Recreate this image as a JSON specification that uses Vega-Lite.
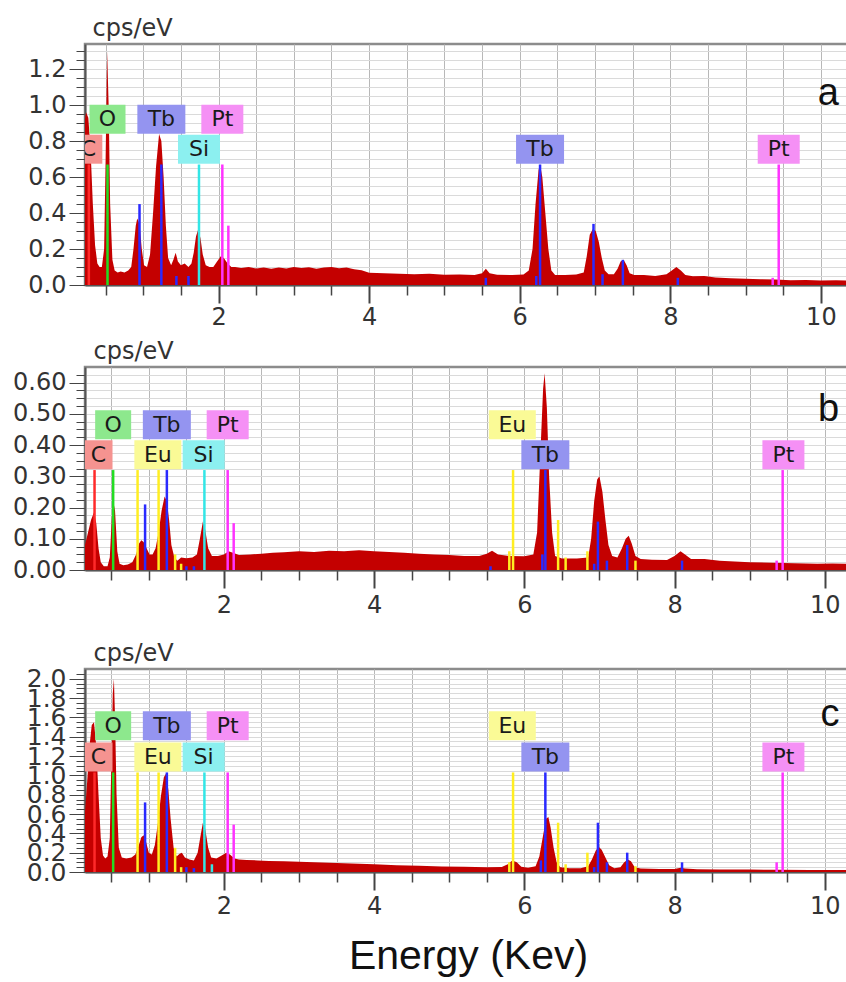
{
  "$schema": "https://vega.github.io/schema/vega-lite/v6.json",
  "background": "white",
  "padding": {"left": 0, "top": 14, "right": 0, "bottom": 0},
  "spacing": 4,
  "columns": 1,
  "align": "none",
  "config": {
    "font": "DejaVu Sans",
    "view": {"stroke": "#8c8c8c", "strokeWidth": 2.5},
    "axis": {"labelFont": "DejaVu Sans", "labelColor": "#333333", "tickColor": "#444444", "domainColor": "#555555", "domainWidth": 2, "labelOverlap": false, "labelBound": false, "labelFlush": false},
    "axisX": {"grid": true, "gridColor": "#b8b8b8", "gridWidth": 1, "labelFontSize": 24, "labelPadding": 2},
    "axisY": {"grid": true, "gridColor": "#dadada", "gridWidth": 1, "labelPadding": 3}
  },
  "datasets": {
    "spec": [
      {"p":"a","e":0.15,"v":0.62},{"p":"a","e":0.18,"v":0.75},{"p":"a","e":0.21,"v":0.88},{"p":"a","e":0.24,"v":0.96},{"p":"a","e":0.27,"v":0.93},{"p":"a","e":0.3,"v":0.75},{"p":"a","e":0.33,"v":0.45},{"p":"a","e":0.36,"v":0.22},{"p":"a","e":0.39,"v":0.12},{"p":"a","e":0.42,"v":0.1},{"p":"a","e":0.45,"v":0.1},{"p":"a","e":0.48,"v":0.2},{"p":"a","e":0.5,"v":0.7},{"p":"a","e":0.52,"v":1.3},{"p":"a","e":0.54,"v":1.0},{"p":"a","e":0.56,"v":0.45},{"p":"a","e":0.59,"v":0.14},{"p":"a","e":0.62,"v":0.08},{"p":"a","e":0.66,"v":0.07},{"p":"a","e":0.7,"v":0.075},{"p":"a","e":0.75,"v":0.07},{"p":"a","e":0.8,"v":0.08},{"p":"a","e":0.84,"v":0.1},{"p":"a","e":0.87,"v":0.2},{"p":"a","e":0.9,"v":0.33},{"p":"a","e":0.92,"v":0.37},{"p":"a","e":0.95,"v":0.34},{"p":"a","e":0.98,"v":0.2},{"p":"a","e":1.01,"v":0.11},{"p":"a","e":1.05,"v":0.1},{"p":"a","e":1.09,"v":0.17},{"p":"a","e":1.13,"v":0.4},{"p":"a","e":1.17,"v":0.66},{"p":"a","e":1.21,"v":0.84},{"p":"a","e":1.24,"v":0.8},{"p":"a","e":1.27,"v":0.6},{"p":"a","e":1.3,"v":0.33},{"p":"a","e":1.33,"v":0.15},{"p":"a","e":1.37,"v":0.11},{"p":"a","e":1.4,"v":0.14},{"p":"a","e":1.43,"v":0.18},{"p":"a","e":1.46,"v":0.13},{"p":"a","e":1.5,"v":0.11},{"p":"a","e":1.55,"v":0.12},{"p":"a","e":1.6,"v":0.1},{"p":"a","e":1.64,"v":0.12},{"p":"a","e":1.67,"v":0.18},{"p":"a","e":1.7,"v":0.27},{"p":"a","e":1.73,"v":0.31},{"p":"a","e":1.76,"v":0.26},{"p":"a","e":1.79,"v":0.17},{"p":"a","e":1.83,"v":0.11},{"p":"a","e":1.88,"v":0.1},{"p":"a","e":1.93,"v":0.1},{"p":"a","e":1.98,"v":0.13},{"p":"a","e":2.03,"v":0.16},{"p":"a","e":2.07,"v":0.15},{"p":"a","e":2.12,"v":0.12},{"p":"a","e":2.17,"v":0.1},{"p":"a","e":2.22,"v":0.1},{"p":"a","e":2.3,"v":0.095},{"p":"a","e":2.4,"v":0.1},{"p":"a","e":2.5,"v":0.092},{"p":"a","e":2.6,"v":0.098},{"p":"a","e":2.7,"v":0.09},{"p":"a","e":2.8,"v":0.097},{"p":"a","e":2.9,"v":0.092},{"p":"a","e":3.0,"v":0.1},{"p":"a","e":3.1,"v":0.094},{"p":"a","e":3.2,"v":0.099},{"p":"a","e":3.3,"v":0.091},{"p":"a","e":3.4,"v":0.097},{"p":"a","e":3.5,"v":0.1},{"p":"a","e":3.6,"v":0.093},{"p":"a","e":3.7,"v":0.098},{"p":"a","e":3.8,"v":0.088},{"p":"a","e":3.9,"v":0.082},{"p":"a","e":4.0,"v":0.068},{"p":"a","e":4.2,"v":0.065},{"p":"a","e":4.4,"v":0.062},{"p":"a","e":4.6,"v":0.06},{"p":"a","e":4.8,"v":0.062},{"p":"a","e":5.0,"v":0.057},{"p":"a","e":5.2,"v":0.058},{"p":"a","e":5.4,"v":0.055},{"p":"a","e":5.5,"v":0.065},{"p":"a","e":5.55,"v":0.09},{"p":"a","e":5.6,"v":0.065},{"p":"a","e":5.7,"v":0.057},{"p":"a","e":5.9,"v":0.055},{"p":"a","e":6.05,"v":0.058},{"p":"a","e":6.12,"v":0.08},{"p":"a","e":6.17,"v":0.2},{"p":"a","e":6.21,"v":0.45},{"p":"a","e":6.25,"v":0.64},{"p":"a","e":6.27,"v":0.67},{"p":"a","e":6.3,"v":0.6},{"p":"a","e":6.34,"v":0.4},{"p":"a","e":6.38,"v":0.2},{"p":"a","e":6.42,"v":0.08},{"p":"a","e":6.47,"v":0.055},{"p":"a","e":6.6,"v":0.055},{"p":"a","e":6.75,"v":0.058},{"p":"a","e":6.85,"v":0.07},{"p":"a","e":6.89,"v":0.16},{"p":"a","e":6.93,"v":0.28},{"p":"a","e":6.97,"v":0.31},{"p":"a","e":7.01,"v":0.3},{"p":"a","e":7.05,"v":0.24},{"p":"a","e":7.09,"v":0.15},{"p":"a","e":7.13,"v":0.08},{"p":"a","e":7.18,"v":0.06},{"p":"a","e":7.25,"v":0.06},{"p":"a","e":7.3,"v":0.09},{"p":"a","e":7.34,"v":0.13},{"p":"a","e":7.38,"v":0.14},{"p":"a","e":7.42,"v":0.11},{"p":"a","e":7.46,"v":0.065},{"p":"a","e":7.52,"v":0.055},{"p":"a","e":7.65,"v":0.055},{"p":"a","e":7.8,"v":0.05},{"p":"a","e":7.95,"v":0.06},{"p":"a","e":8.02,"v":0.08},{"p":"a","e":8.08,"v":0.1},{"p":"a","e":8.14,"v":0.08},{"p":"a","e":8.2,"v":0.055},{"p":"a","e":8.3,"v":0.048},{"p":"a","e":8.45,"v":0.05},{"p":"a","e":8.6,"v":0.042},{"p":"a","e":8.8,"v":0.037},{"p":"a","e":9.0,"v":0.035},{"p":"a","e":9.2,"v":0.032},{"p":"a","e":9.4,"v":0.03},{"p":"a","e":9.6,"v":0.027},{"p":"a","e":9.8,"v":0.028},{"p":"a","e":10.0,"v":0.025},{"p":"a","e":10.2,"v":0.026},{"p":"a","e":10.4,"v":0.025},
      {"p":"b","e":0.15,"v":0.08},{"p":"b","e":0.19,"v":0.12},{"p":"b","e":0.23,"v":0.16},{"p":"b","e":0.27,"v":0.185},{"p":"b","e":0.3,"v":0.15},{"p":"b","e":0.33,"v":0.07},{"p":"b","e":0.36,"v":0.025},{"p":"b","e":0.4,"v":0.012},{"p":"b","e":0.45,"v":0.012},{"p":"b","e":0.48,"v":0.04},{"p":"b","e":0.51,"v":0.18},{"p":"b","e":0.53,"v":0.215},{"p":"b","e":0.55,"v":0.19},{"p":"b","e":0.58,"v":0.06},{"p":"b","e":0.61,"v":0.02},{"p":"b","e":0.66,"v":0.015},{"p":"b","e":0.72,"v":0.018},{"p":"b","e":0.78,"v":0.025},{"p":"b","e":0.83,"v":0.05},{"p":"b","e":0.87,"v":0.085},{"p":"b","e":0.9,"v":0.095},{"p":"b","e":0.93,"v":0.09},{"p":"b","e":0.97,"v":0.07},{"p":"b","e":1.01,"v":0.05},{"p":"b","e":1.05,"v":0.05},{"p":"b","e":1.09,"v":0.07},{"p":"b","e":1.13,"v":0.12},{"p":"b","e":1.17,"v":0.19},{"p":"b","e":1.21,"v":0.235},{"p":"b","e":1.24,"v":0.22},{"p":"b","e":1.27,"v":0.16},{"p":"b","e":1.3,"v":0.08},{"p":"b","e":1.34,"v":0.04},{"p":"b","e":1.38,"v":0.03},{"p":"b","e":1.43,"v":0.04},{"p":"b","e":1.5,"v":0.038},{"p":"b","e":1.58,"v":0.04},{"p":"b","e":1.64,"v":0.05},{"p":"b","e":1.68,"v":0.1},{"p":"b","e":1.72,"v":0.155},{"p":"b","e":1.75,"v":0.13},{"p":"b","e":1.79,"v":0.07},{"p":"b","e":1.84,"v":0.045},{"p":"b","e":1.92,"v":0.045},{"p":"b","e":2.0,"v":0.05},{"p":"b","e":2.06,"v":0.06},{"p":"b","e":2.12,"v":0.055},{"p":"b","e":2.2,"v":0.048},{"p":"b","e":2.35,"v":0.05},{"p":"b","e":2.5,"v":0.052},{"p":"b","e":2.65,"v":0.055},{"p":"b","e":2.8,"v":0.057},{"p":"b","e":3.0,"v":0.06},{"p":"b","e":3.2,"v":0.058},{"p":"b","e":3.4,"v":0.062},{"p":"b","e":3.6,"v":0.06},{"p":"b","e":3.8,"v":0.063},{"p":"b","e":4.0,"v":0.06},{"p":"b","e":4.2,"v":0.058},{"p":"b","e":4.4,"v":0.055},{"p":"b","e":4.6,"v":0.052},{"p":"b","e":4.8,"v":0.05},{"p":"b","e":5.0,"v":0.048},{"p":"b","e":5.2,"v":0.045},{"p":"b","e":5.4,"v":0.045},{"p":"b","e":5.5,"v":0.052},{"p":"b","e":5.57,"v":0.062},{"p":"b","e":5.65,"v":0.05},{"p":"b","e":5.8,"v":0.045},{"p":"b","e":6.0,"v":0.044},{"p":"b","e":6.12,"v":0.05},{"p":"b","e":6.17,"v":0.12},{"p":"b","e":6.21,"v":0.35},{"p":"b","e":6.25,"v":0.58},{"p":"b","e":6.27,"v":0.63},{"p":"b","e":6.3,"v":0.52},{"p":"b","e":6.33,"v":0.3},{"p":"b","e":6.37,"v":0.12},{"p":"b","e":6.41,"v":0.045},{"p":"b","e":6.5,"v":0.037},{"p":"b","e":6.7,"v":0.037},{"p":"b","e":6.85,"v":0.04},{"p":"b","e":6.89,"v":0.1},{"p":"b","e":6.93,"v":0.22},{"p":"b","e":6.97,"v":0.29},{"p":"b","e":7.0,"v":0.3},{"p":"b","e":7.04,"v":0.25},{"p":"b","e":7.08,"v":0.16},{"p":"b","e":7.12,"v":0.08},{"p":"b","e":7.17,"v":0.045},{"p":"b","e":7.24,"v":0.04},{"p":"b","e":7.3,"v":0.07},{"p":"b","e":7.35,"v":0.1},{"p":"b","e":7.39,"v":0.11},{"p":"b","e":7.43,"v":0.085},{"p":"b","e":7.48,"v":0.045},{"p":"b","e":7.55,"v":0.035},{"p":"b","e":7.7,"v":0.033},{"p":"b","e":7.9,"v":0.032},{"p":"b","e":8.0,"v":0.045},{"p":"b","e":8.08,"v":0.06},{"p":"b","e":8.14,"v":0.05},{"p":"b","e":8.22,"v":0.035},{"p":"b","e":8.4,"v":0.035},{"p":"b","e":8.6,"v":0.03},{"p":"b","e":8.8,"v":0.027},{"p":"b","e":9.0,"v":0.025},{"p":"b","e":9.3,"v":0.023},{"p":"b","e":9.6,"v":0.022},{"p":"b","e":9.9,"v":0.02},{"p":"b","e":10.1,"v":0.021},{"p":"b","e":10.35,"v":0.02},
      {"p":"c","e":0.15,"v":0.62},{"p":"c","e":0.18,"v":0.95},{"p":"c","e":0.21,"v":1.3},{"p":"c","e":0.24,"v":1.52},{"p":"c","e":0.27,"v":1.55},{"p":"c","e":0.3,"v":1.3},{"p":"c","e":0.33,"v":0.8},{"p":"c","e":0.36,"v":0.35},{"p":"c","e":0.39,"v":0.17},{"p":"c","e":0.42,"v":0.14},{"p":"c","e":0.45,"v":0.16},{"p":"c","e":0.48,"v":0.35},{"p":"c","e":0.5,"v":1.1},{"p":"c","e":0.52,"v":1.85},{"p":"c","e":0.535,"v":2.0},{"p":"c","e":0.55,"v":1.6},{"p":"c","e":0.57,"v":0.8},{"p":"c","e":0.6,"v":0.25},{"p":"c","e":0.64,"v":0.15},{"p":"c","e":0.7,"v":0.14},{"p":"c","e":0.77,"v":0.15},{"p":"c","e":0.82,"v":0.18},{"p":"c","e":0.86,"v":0.26},{"p":"c","e":0.9,"v":0.36},{"p":"c","e":0.93,"v":0.38},{"p":"c","e":0.96,"v":0.32},{"p":"c","e":1.0,"v":0.2},{"p":"c","e":1.04,"v":0.18},{"p":"c","e":1.08,"v":0.28},{"p":"c","e":1.12,"v":0.5},{"p":"c","e":1.16,"v":0.78},{"p":"c","e":1.2,"v":0.98},{"p":"c","e":1.23,"v":1.02},{"p":"c","e":1.26,"v":0.85},{"p":"c","e":1.29,"v":0.55},{"p":"c","e":1.33,"v":0.25},{"p":"c","e":1.37,"v":0.16},{"p":"c","e":1.41,"v":0.19},{"p":"c","e":1.44,"v":0.2},{"p":"c","e":1.48,"v":0.15},{"p":"c","e":1.54,"v":0.13},{"p":"c","e":1.6,"v":0.12},{"p":"c","e":1.65,"v":0.2},{"p":"c","e":1.69,"v":0.38},{"p":"c","e":1.72,"v":0.51},{"p":"c","e":1.75,"v":0.45},{"p":"c","e":1.79,"v":0.25},{"p":"c","e":1.83,"v":0.15},{"p":"c","e":1.9,"v":0.14},{"p":"c","e":1.97,"v":0.17},{"p":"c","e":2.03,"v":0.2},{"p":"c","e":2.08,"v":0.18},{"p":"c","e":2.14,"v":0.14},{"p":"c","e":2.2,"v":0.13},{"p":"c","e":2.3,"v":0.125},{"p":"c","e":2.45,"v":0.12},{"p":"c","e":2.6,"v":0.115},{"p":"c","e":2.8,"v":0.11},{"p":"c","e":3.0,"v":0.105},{"p":"c","e":3.2,"v":0.1},{"p":"c","e":3.4,"v":0.095},{"p":"c","e":3.6,"v":0.09},{"p":"c","e":3.8,"v":0.085},{"p":"c","e":4.0,"v":0.08},{"p":"c","e":4.3,"v":0.07},{"p":"c","e":4.6,"v":0.065},{"p":"c","e":4.9,"v":0.058},{"p":"c","e":5.2,"v":0.055},{"p":"c","e":5.5,"v":0.05},{"p":"c","e":5.7,"v":0.052},{"p":"c","e":5.78,"v":0.08},{"p":"c","e":5.84,"v":0.12},{"p":"c","e":5.9,"v":0.1},{"p":"c","e":5.96,"v":0.055},{"p":"c","e":6.05,"v":0.045},{"p":"c","e":6.15,"v":0.06},{"p":"c","e":6.2,"v":0.16},{"p":"c","e":6.25,"v":0.38},{"p":"c","e":6.29,"v":0.55},{"p":"c","e":6.32,"v":0.57},{"p":"c","e":6.35,"v":0.46},{"p":"c","e":6.39,"v":0.25},{"p":"c","e":6.43,"v":0.1},{"p":"c","e":6.48,"v":0.05},{"p":"c","e":6.6,"v":0.04},{"p":"c","e":6.75,"v":0.04},{"p":"c","e":6.85,"v":0.06},{"p":"c","e":6.9,"v":0.13},{"p":"c","e":6.95,"v":0.22},{"p":"c","e":6.99,"v":0.26},{"p":"c","e":7.03,"v":0.23},{"p":"c","e":7.08,"v":0.15},{"p":"c","e":7.13,"v":0.07},{"p":"c","e":7.2,"v":0.04},{"p":"c","e":7.28,"v":0.05},{"p":"c","e":7.33,"v":0.1},{"p":"c","e":7.38,"v":0.13},{"p":"c","e":7.42,"v":0.11},{"p":"c","e":7.47,"v":0.05},{"p":"c","e":7.55,"v":0.035},{"p":"c","e":7.8,"v":0.03},{"p":"c","e":8.0,"v":0.03},{"p":"c","e":8.08,"v":0.045},{"p":"c","e":8.14,"v":0.035},{"p":"c","e":8.3,"v":0.028},{"p":"c","e":8.6,"v":0.025},{"p":"c","e":9.0,"v":0.025},{"p":"c","e":9.4,"v":0.022},{"p":"c","e":9.8,"v":0.02},{"p":"c","e":10.35,"v":0.02}
    ],
    "lines": [
      {"p":"a","el":"C","e":0.277,"v":0.67},{"p":"a","el":"O","e":0.525,"v":0.67},{"p":"a","el":"Tb","e":0.95,"v":0.45},{"p":"a","el":"Tb","e":1.24,"v":0.67},{"p":"a","el":"Tb","e":1.44,"v":0.05},{"p":"a","el":"Tb","e":1.6,"v":0.05},{"p":"a","el":"Si","e":1.74,"v":0.67},{"p":"a","el":"Pt","e":2.05,"v":0.67},{"p":"a","el":"Pt","e":2.13,"v":0.33},{"p":"a","el":"Tb","e":5.55,"v":0.04},{"p":"a","el":"Tb","e":6.22,"v":0.05},{"p":"a","el":"Tb","e":6.27,"v":0.67},{"p":"a","el":"Tb","e":6.98,"v":0.34},{"p":"a","el":"Tb","e":7.1,"v":0.06},{"p":"a","el":"Tb","e":7.37,"v":0.14},{"p":"a","el":"Tb","e":8.1,"v":0.04},{"p":"a","el":"Pt","e":9.36,"v":0.04},{"p":"a","el":"Pt","e":9.44,"v":0.67},
      {"p":"b","el":"C","e":0.277,"v":0.32},{"p":"b","el":"O","e":0.525,"v":0.32},{"p":"b","el":"Eu","e":0.85,"v":0.32},{"p":"b","el":"Tb","e":0.95,"v":0.21},{"p":"b","el":"Eu","e":1.13,"v":0.32},{"p":"b","el":"Tb","e":1.24,"v":0.32},{"p":"b","el":"Eu","e":1.35,"v":0.05},{"p":"b","el":"Eu","e":1.43,"v":0.02},{"p":"b","el":"Tb","e":1.5,"v":0.012},{"p":"b","el":"Tb","e":1.6,"v":0.012},{"p":"b","el":"Si","e":1.74,"v":0.32},{"p":"b","el":"Pt","e":2.05,"v":0.32},{"p":"b","el":"Pt","e":2.13,"v":0.15},{"p":"b","el":"Tb","e":5.55,"v":0.012},{"p":"b","el":"Eu","e":5.8,"v":0.06},{"p":"b","el":"Eu","e":5.85,"v":0.32},{"p":"b","el":"Tb","e":6.24,"v":0.05},{"p":"b","el":"Tb","e":6.28,"v":0.32},{"p":"b","el":"Eu","e":6.45,"v":0.16},{"p":"b","el":"Eu","e":6.55,"v":0.04},{"p":"b","el":"Eu","e":6.84,"v":0.06},{"p":"b","el":"Tb","e":6.93,"v":0.02},{"p":"b","el":"Tb","e":6.98,"v":0.155},{"p":"b","el":"Tb","e":7.1,"v":0.03},{"p":"b","el":"Tb","e":7.37,"v":0.08},{"p":"b","el":"Eu","e":7.48,"v":0.03},{"p":"b","el":"Tb","e":8.1,"v":0.03},{"p":"b","el":"Pt","e":9.36,"v":0.03},{"p":"b","el":"Pt","e":9.44,"v":0.32},
      {"p":"c","el":"C","e":0.277,"v":1.03},{"p":"c","el":"O","e":0.525,"v":1.03},{"p":"c","el":"Eu","e":0.85,"v":1.03},{"p":"c","el":"Tb","e":0.95,"v":0.72},{"p":"c","el":"Eu","e":1.13,"v":1.03},{"p":"c","el":"Tb","e":1.24,"v":1.03},{"p":"c","el":"Eu","e":1.35,"v":0.25},{"p":"c","el":"Eu","e":1.43,"v":0.05},{"p":"c","el":"Tb","e":1.5,"v":0.05},{"p":"c","el":"Tb","e":1.6,"v":0.04},{"p":"c","el":"Si","e":1.74,"v":1.03},{"p":"c","el":"Si","e":1.84,"v":0.08},{"p":"c","el":"Pt","e":2.05,"v":1.03},{"p":"c","el":"Pt","e":2.13,"v":0.49},{"p":"c","el":"Eu","e":5.8,"v":0.1},{"p":"c","el":"Eu","e":5.85,"v":1.03},{"p":"c","el":"Tb","e":6.22,"v":0.12},{"p":"c","el":"Tb","e":6.28,"v":1.03},{"p":"c","el":"Eu","e":6.45,"v":0.51},{"p":"c","el":"Eu","e":6.55,"v":0.08},{"p":"c","el":"Eu","e":6.84,"v":0.2},{"p":"c","el":"Tb","e":6.93,"v":0.05},{"p":"c","el":"Tb","e":6.98,"v":0.51},{"p":"c","el":"Tb","e":7.1,"v":0.1},{"p":"c","el":"Tb","e":7.37,"v":0.2},{"p":"c","el":"Eu","e":7.48,"v":0.06},{"p":"c","el":"Tb","e":8.1,"v":0.1},{"p":"c","el":"Pt","e":9.36,"v":0.1},{"p":"c","el":"Pt","e":9.44,"v":1.03}
    ],
    "labels": [
      {"p":"a","el":"C","e":0.27,"v":0.755},{"p":"a","el":"O","e":0.525,"v":0.922},{"p":"a","el":"Tb","e":1.24,"v":0.922},{"p":"a","el":"Si","e":1.74,"v":0.755},{"p":"a","el":"Pt","e":2.05,"v":0.922},{"p":"a","el":"Tb","e":6.27,"v":0.755},{"p":"a","el":"Pt","e":9.44,"v":0.755},
      {"p":"b","el":"C","e":0.33,"v":0.369},{"p":"b","el":"O","e":0.525,"v":0.465},{"p":"b","el":"Tb","e":1.24,"v":0.465},{"p":"b","el":"Eu","e":1.12,"v":0.369},{"p":"b","el":"Si","e":1.73,"v":0.369},{"p":"b","el":"Pt","e":2.05,"v":0.465},{"p":"b","el":"Eu","e":5.84,"v":0.465},{"p":"b","el":"Tb","e":6.28,"v":0.369},{"p":"b","el":"Pt","e":9.45,"v":0.369},
      {"p":"c","el":"C","e":0.33,"v":1.19},{"p":"c","el":"O","e":0.525,"v":1.513},{"p":"c","el":"Tb","e":1.24,"v":1.513},{"p":"c","el":"Eu","e":1.12,"v":1.19},{"p":"c","el":"Si","e":1.73,"v":1.19},{"p":"c","el":"Pt","e":2.05,"v":1.513},{"p":"c","el":"Eu","e":5.84,"v":1.513},{"p":"c","el":"Tb","e":6.28,"v":1.19},{"p":"c","el":"Pt","e":9.45,"v":1.19}
    ],
    "letters": [
      {"p":"a","t":"a","e":10.1,"v":1.0},{"p":"b","t":"b","e":10.05,"v":0.478},{"p":"c","t":"c","e":10.07,"v":1.51}
    ]
  },
  "concat": [
    {
      "width": 766, "height": 241,
      "encoding": {
        "x": {"field": "e", "type": "quantitative", "scale": {"domain": [0.226, 10.4], "nice": false, "zero": false},
          "axis": {"values": [0.5,1,1.5,2,2.5,3,3.5,4,4.5,5,5.5,6,6.5,7,7.5,8,8.5,9,9.5,10], "labelExpr": "datum.value % 2 == 0 ? format(datum.value, 'd') : ''", "tickSize": {"condition": {"test": "datum.value % 2 == 0", "value": 18}, "value": 10}, "tickWidth": {"condition": {"test": "datum.value % 2 == 0", "value": 2}, "value": 1.5}, "title": null, "minExtent": 46, "maxExtent": 46}},
        "y": {"field": "v", "type": "quantitative", "scale": {"domain": [0, 1.34], "nice": false, "zero": false},
          "axis": {"values": [0,0.05,0.1,0.15,0.2,0.25,0.3,0.35,0.4,0.45,0.5,0.55,0.6,0.65,0.7,0.75,0.8,0.85,0.9,0.95,1,1.05,1.1,1.15,1.2,1.25,1.3], "labelExpr": "abs(datum.value*5-round(datum.value*5))<0.01 ? format(datum.value,'.1f') : ''", "tickSize": {"condition": {"test": "abs(datum.value*5-round(datum.value*5))<0.01", "value": 16}, "value": 9}, "labelFontSize": 24, "title": "cps/eV", "titleAngle": 0, "titleAlign": "left", "titleBaseline": "alphabetic", "titleX": 7, "titleY": -9, "titleFontSize": 24, "titleFontWeight": "normal", "titleColor": "#333333", "titleFont": "DejaVu Sans", "minExtent": 78, "maxExtent": 78}}
      },
      "layer": [
        {"data": {"name": "spec"}, "transform": [{"filter": "datum.p == 'a'"}], "mark": {"type": "area", "color": "#c40000", "clip": true}},
        {"data": {"name": "lines"}, "transform": [{"filter": "datum.p == 'a'"}], "mark": {"type": "rule", "strokeWidth": 2.5, "clip": true},
          "encoding": {"y2": {"datum": 0}, "stroke": {"field": "el", "type": "nominal", "legend": null, "scale": {"domain": ["C","O","Tb","Eu","Si","Pt"], "range": ["#ff2a2a","#22dd22","#2a2aff","#ffee22","#33e6e6","#ff33ff"]}}}},
        {"data": {"name": "labels"}, "transform": [{"filter": "datum.p == 'a'"}], "mark": {"type": "point", "filled": true, "opacity": 1, "size": 2500, "strokeWidth": 0, "clip": true},
          "encoding": {"fill": {"field": "el", "type": "nominal", "legend": null, "scale": {"domain": ["C","O","Tb","Eu","Si","Pt"], "range": ["#f59390","#8de88d","#9494f0","#fafa96","#8cf0f0","#f590f5"]}},
            "shape": {"field": "el", "type": "nominal", "legend": null, "scale": {"domain": ["C","O","Tb","Eu","Si","Pt"], "range": ["M-0.56,-0.58H0.56V0.58H-0.56Z","M-0.72,-0.58H0.72V0.58H-0.72Z","M-0.96,-0.58H0.96V0.58H-0.96Z","M-0.94,-0.58H0.94V0.58H-0.94Z","M-0.84,-0.58H0.84V0.58H-0.84Z","M-0.84,-0.58H0.84V0.58H-0.84Z"]}}}},
        {"data": {"name": "labels"}, "transform": [{"filter": "datum.p == 'a'"}], "mark": {"type": "text", "fontSize": 22, "color": "#1a1a1a", "font": "DejaVu Sans", "clip": true}, "encoding": {"text": {"field": "el"}}},
        {"data": {"name": "letters"}, "transform": [{"filter": "datum.p == 'a'"}], "mark": {"type": "text", "fontSize": 38, "font": "Liberation Sans", "baseline": "alphabetic", "align": "center", "color": "#111111"}, "encoding": {"text": {"field": "t"}}}
      ]
    },
    {
      "width": 766, "height": 203,
      "encoding": {
        "x": {"field": "e", "type": "quantitative", "scale": {"domain": [0.15, 10.35], "nice": false, "zero": false},
          "axis": {"values": [0.5,1,1.5,2,2.5,3,3.5,4,4.5,5,5.5,6,6.5,7,7.5,8,8.5,9,9.5,10], "labelExpr": "datum.value % 2 == 0 ? format(datum.value, 'd') : ''", "tickSize": {"condition": {"test": "datum.value % 2 == 0", "value": 18}, "value": 10}, "tickWidth": {"condition": {"test": "datum.value % 2 == 0", "value": 2}, "value": 1.5}, "title": null, "labelPadding": 5, "minExtent": 63, "maxExtent": 63}},
        "y": {"field": "v", "type": "quantitative", "scale": {"domain": [0, 0.65], "nice": false, "zero": false},
          "axis": {"values": [0,0.025,0.05,0.075,0.1,0.125,0.15,0.175,0.2,0.225,0.25,0.275,0.3,0.325,0.35,0.375,0.4,0.425,0.45,0.475,0.5,0.525,0.55,0.575,0.6,0.625], "labelExpr": "abs(datum.value*10-round(datum.value*10))<0.01 ? format(datum.value,'.2f') : ''", "tickSize": {"condition": {"test": "abs(datum.value*10-round(datum.value*10))<0.01", "value": 16}, "value": 9}, "labelFontSize": 24, "title": "cps/eV", "titleAngle": 0, "titleAlign": "left", "titleBaseline": "alphabetic", "titleX": 8, "titleY": -9, "titleFontSize": 24, "titleFontWeight": "normal", "titleColor": "#333333", "titleFont": "DejaVu Sans", "minExtent": 83, "maxExtent": 83}}
      },
      "layer": [
        {"data": {"name": "spec"}, "transform": [{"filter": "datum.p == 'b'"}], "mark": {"type": "area", "color": "#c40000", "clip": true}},
        {"data": {"name": "lines"}, "transform": [{"filter": "datum.p == 'b'"}], "mark": {"type": "rule", "strokeWidth": 2.5, "clip": true},
          "encoding": {"y2": {"datum": 0}, "stroke": {"field": "el", "type": "nominal", "legend": null, "scale": {"domain": ["C","O","Tb","Eu","Si","Pt"], "range": ["#ff2a2a","#22dd22","#2a2aff","#ffee22","#33e6e6","#ff33ff"]}}}},
        {"data": {"name": "labels"}, "transform": [{"filter": "datum.p == 'b'"}], "mark": {"type": "point", "filled": true, "opacity": 1, "size": 2500, "strokeWidth": 0, "clip": true},
          "encoding": {"fill": {"field": "el", "type": "nominal", "legend": null, "scale": {"domain": ["C","O","Tb","Eu","Si","Pt"], "range": ["#f59390","#8de88d","#9494f0","#fafa96","#8cf0f0","#f590f5"]}},
            "shape": {"field": "el", "type": "nominal", "legend": null, "scale": {"domain": ["C","O","Tb","Eu","Si","Pt"], "range": ["M-0.56,-0.58H0.56V0.58H-0.56Z","M-0.72,-0.58H0.72V0.58H-0.72Z","M-0.96,-0.58H0.96V0.58H-0.96Z","M-0.94,-0.58H0.94V0.58H-0.94Z","M-0.84,-0.58H0.84V0.58H-0.84Z","M-0.84,-0.58H0.84V0.58H-0.84Z"]}}}},
        {"data": {"name": "labels"}, "transform": [{"filter": "datum.p == 'b'"}], "mark": {"type": "text", "fontSize": 22, "color": "#1a1a1a", "font": "DejaVu Sans"}, "encoding": {"text": {"field": "el"}}},
        {"data": {"name": "letters"}, "transform": [{"filter": "datum.p == 'b'"}], "mark": {"type": "text", "fontSize": 38, "font": "Liberation Sans", "baseline": "alphabetic", "align": "center", "color": "#111111"}, "encoding": {"text": {"field": "t"}}}
      ]
    },
    {
      "width": 766, "height": 203,
      "encoding": {
        "x": {"field": "e", "type": "quantitative", "scale": {"domain": [0.15, 10.35], "nice": false, "zero": false},
          "axis": {"values": [0.5,1,1.5,2,2.5,3,3.5,4,4.5,5,5.5,6,6.5,7,7.5,8,8.5,9,9.5,10], "labelExpr": "datum.value % 2 == 0 ? format(datum.value, 'd') : ''", "tickSize": {"condition": {"test": "datum.value % 2 == 0", "value": 18}, "value": 10}, "tickWidth": {"condition": {"test": "datum.value % 2 == 0", "value": 2}, "value": 1.5}, "labelPadding": 4, "title": "Energy (Kev)", "titleFont": "Liberation Sans", "titleFontSize": 41, "titleFontWeight": "normal", "titleColor": "#111111", "titlePadding": 18}},
        "y": {"field": "v", "type": "quantitative", "scale": {"domain": [0, 2.1], "nice": false, "zero": false},
          "axis": {"values": [0,0.05,0.1,0.15,0.2,0.25,0.3,0.35,0.4,0.45,0.5,0.55,0.6,0.65,0.7,0.75,0.8,0.85,0.9,0.95,1,1.05,1.1,1.15,1.2,1.25,1.3,1.35,1.4,1.45,1.5,1.55,1.6,1.65,1.7,1.75,1.8,1.85,1.9,1.95,2,2.05], "labelExpr": "abs(datum.value*5-round(datum.value*5))<0.01 ? format(datum.value,'.1f') : ''", "tickSize": {"condition": {"test": "abs(datum.value*5-round(datum.value*5))<0.01", "value": 16}, "value": 9}, "labelFontSize": 25, "title": "cps/eV", "titleAngle": 0, "titleAlign": "left", "titleBaseline": "alphabetic", "titleX": 8, "titleY": -9, "titleFontSize": 24, "titleFontWeight": "normal", "titleColor": "#333333", "titleFont": "DejaVu Sans", "minExtent": 83, "maxExtent": 83}}
      },
      "layer": [
        {"data": {"name": "spec"}, "transform": [{"filter": "datum.p == 'c'"}], "mark": {"type": "area", "color": "#c40000", "clip": true}},
        {"data": {"name": "lines"}, "transform": [{"filter": "datum.p == 'c'"}], "mark": {"type": "rule", "strokeWidth": 2.5, "clip": true},
          "encoding": {"y2": {"datum": 0}, "stroke": {"field": "el", "type": "nominal", "legend": null, "scale": {"domain": ["C","O","Tb","Eu","Si","Pt"], "range": ["#ff2a2a","#22dd22","#2a2aff","#ffee22","#33e6e6","#ff33ff"]}}}},
        {"data": {"name": "labels"}, "transform": [{"filter": "datum.p == 'c'"}], "mark": {"type": "point", "filled": true, "opacity": 1, "size": 2500, "strokeWidth": 0, "clip": true},
          "encoding": {"fill": {"field": "el", "type": "nominal", "legend": null, "scale": {"domain": ["C","O","Tb","Eu","Si","Pt"], "range": ["#f59390","#8de88d","#9494f0","#fafa96","#8cf0f0","#f590f5"]}},
            "shape": {"field": "el", "type": "nominal", "legend": null, "scale": {"domain": ["C","O","Tb","Eu","Si","Pt"], "range": ["M-0.56,-0.58H0.56V0.58H-0.56Z","M-0.72,-0.58H0.72V0.58H-0.72Z","M-0.96,-0.58H0.96V0.58H-0.96Z","M-0.94,-0.58H0.94V0.58H-0.94Z","M-0.84,-0.58H0.84V0.58H-0.84Z","M-0.84,-0.58H0.84V0.58H-0.84Z"]}}}},
        {"data": {"name": "labels"}, "transform": [{"filter": "datum.p == 'c'"}], "mark": {"type": "text", "fontSize": 22, "color": "#1a1a1a", "font": "DejaVu Sans"}, "encoding": {"text": {"field": "el"}}},
        {"data": {"name": "letters"}, "transform": [{"filter": "datum.p == 'c'"}], "mark": {"type": "text", "fontSize": 38, "font": "Liberation Sans", "baseline": "alphabetic", "align": "center", "color": "#111111"}, "encoding": {"text": {"field": "t"}}}
      ]
    }
  ]
}
